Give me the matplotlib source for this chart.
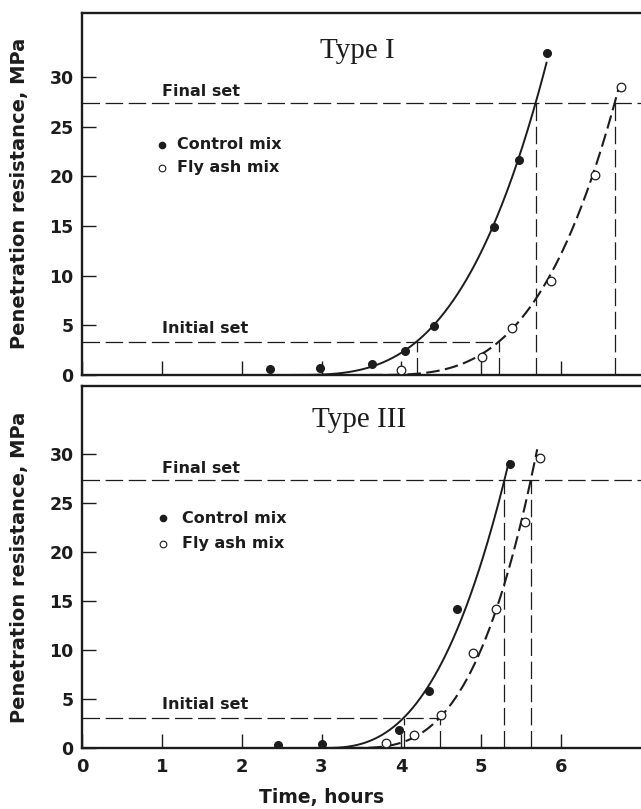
import numpy as np
import matplotlib
matplotlib.use("Agg")
import matplotlib.pyplot as plt

# ---------------- data ----------------
hour_ticks = [0, 1, 2, 3, 4, 5, 6]
mpa_ticks = [0, 5, 10, 15, 20, 25, 30]

panel_titles = ["Type I", "Type III"]
legend_labels = ["Control mix", "Fly ash mix"]

# Type I cement
t1_control_time = [2.35, 2.98, 3.63, 4.05, 4.41, 5.16, 5.47, 5.82]
t1_control_mpa = [0.6, 0.7, 1.1, 2.4, 4.9, 14.9, 21.7, 32.4]
t1_flyash_time = [4.00, 5.01, 5.38, 5.87, 6.42, 6.75]
t1_flyash_mpa = [0.5, 1.8, 4.7, 9.5, 20.1, 29.0]
t1_set_levels = [3.36, 27.4]              # initial, final set (MPa)
t1_control_set_times = [4.19, 5.68]       # initial, final (h)
t1_flyash_set_times = [5.22, 6.67]
t1_curve_onset = [2.6, 3.6]               # control, fly ash
t1_curve_end = [5.82, 6.72]

# Type III cement
t3_control_time = [2.45, 3.00, 3.97, 4.35, 4.70, 5.36]
t3_control_mpa = [0.3, 0.4, 1.85, 5.85, 14.2, 29.0]
t3_flyash_time = [3.81, 4.16, 4.49, 4.90, 5.18, 5.55, 5.73]
t3_flyash_mpa = [0.5, 1.35, 3.4, 9.7, 14.2, 23.1, 29.6]
t3_set_levels = [3.1, 27.4]
t3_control_set_times = [4.03, 5.29]
t3_flyash_set_times = [4.48, 5.62]
t3_curve_onset = [3.0, 3.35]
t3_curve_end = [5.35, 5.70]

INK = "#1c1c1c"
SANS = "DejaVu Sans"
SERIF = "Liberation Serif"


def setting_curve(onset, t_init, t_final, y_init, y_final, t_end):
    """Power-law hardening curve through the initial and final set points."""
    n = np.log(y_final / y_init) / np.log((t_final - onset) / (t_init - onset))
    t = np.linspace(onset, t_end, 300)
    y = y_init * ((t - onset) / (t_init - onset)) ** n
    return t, y


def draw_panel(ax, title, ctime, cmpa, ftime, fmpa, levels, cset, fset,
               onset, tend, ymax, title_xy, legend_y, text_x, show_xlabels):
    y_init, y_final = levels

    # reference lines for initial and final set
    dash_ref = (0, (14, 4.5))
    ax.plot([0, max(cset[0], fset[0])], [y_init, y_init], color=INK, lw=0.9,
            ls=dash_ref)
    ax.plot([0, 7.0], [y_final, y_final], color=INK, lw=0.9, ls=dash_ref)
    for ts in (cset, fset):
        ax.plot([ts[0], ts[0]], [0, y_init], color=INK, lw=0.9, ls=dash_ref)
        ax.plot([ts[1], ts[1]], [0, y_final], color=INK, lw=0.9, ls=dash_ref)

    # fitted hardening curves
    tc, yc = setting_curve(onset[0], cset[0], cset[1], y_init, y_final, tend[0])
    ax.plot(tc, yc, color=INK, lw=1.4, solid_capstyle="butt")
    tf, yf = setting_curve(onset[1], fset[0], fset[1], y_init, y_final, tend[1])
    ax.plot(tf, yf, color=INK, lw=1.5, ls=(0, (6.5, 2.6)))

    # measurements
    ax.plot(ctime, cmpa, "o", ms=5.5, color=INK, mec=INK, zorder=5)
    ax.plot(ftime, fmpa, "o", ms=6.2, mfc="white", mec=INK, mew=0.9, zorder=5)

    # panel title
    ax.text(title_xy[0], title_xy[1], title, family=SERIF, fontsize=21,
            color=INK, ha="center", va="center")

    # key
    ax.plot([text_x[0]], [legend_y[0]], "o", ms=4.5, color=INK)
    ax.plot([text_x[0]], [legend_y[1]], "o", ms=4.8, mfc="white", mec=INK,
            mew=0.8)
    ax.text(text_x[1], legend_y[0], legend_labels[0], family=SANS,
            fontweight="bold", fontsize=11.5, color=INK, va="center")
    ax.text(text_x[1], legend_y[1], legend_labels[1], family=SANS,
            fontweight="bold", fontsize=11.5, color=INK, va="center")

    ax.text(text_x[2], y_final + 0.7, "Final set", family=SANS,
            fontweight="bold", fontsize=11.5, color=INK, va="baseline")
    ax.text(text_x[2], y_init + 0.9, "Initial set", family=SANS,
            fontweight="bold", fontsize=11.5, color=INK, va="baseline")

    # axes styling
    ax.set_xlim(0, 7.0)
    ax.set_ylim(0, ymax)
    ax.set_xticks(hour_ticks)
    ax.set_yticks(mpa_ticks)
    for s in ("left", "bottom", "top"):
        ax.spines[s].set_linewidth(1.7)
        ax.spines[s].set_color(INK)
    ax.spines["right"].set_visible(False)
    ax.tick_params(axis="both", direction="in", length=10, width=1.0,
                   color=INK)
    ax.tick_params(axis="y", labelsize=12.5, pad=6, labelcolor=INK)
    ax.tick_params(axis="x", labelsize=13, pad=7, labelcolor=INK,
                   labelbottom=show_xlabels)
    for lab in ax.get_xticklabels() + ax.get_yticklabels():
        lab.set_fontweight("bold")
        lab.set_family(SANS)

    ax.text(-0.111, 0.5, "Penetration resistance, MPa", transform=ax.transAxes,
            rotation=90, ha="center", va="center", family=SANS,
            fontweight="bold", fontsize=14, color=INK)


fig = plt.figure(figsize=(6.41, 8.09), dpi=100)
fig.patch.set_facecolor("white")

ax_top = fig.add_axes([0.1279, 0.5365, 0.8721, 0.4478])
ax_bot = fig.add_axes([0.1279, 0.0754, 0.8721, 0.4475])

draw_panel(ax_top, panel_titles[0], t1_control_time, t1_control_mpa,
           t1_flyash_time, t1_flyash_mpa, t1_set_levels,
           t1_control_set_times, t1_flyash_set_times, t1_curve_onset,
           t1_curve_end, ymax=36.5, title_xy=(3.45, 32.6),
           legend_y=(23.2, 20.9), text_x=(1.0, 1.185, 1.0),
           show_xlabels=False)

draw_panel(ax_bot, panel_titles[1], t3_control_time, t3_control_mpa,
           t3_flyash_time, t3_flyash_mpa, t3_set_levels,
           t3_control_set_times, t3_flyash_set_times, t3_curve_onset,
           t3_curve_end, ymax=37.0, title_xy=(3.47, 33.5),
           legend_y=(23.5, 20.9), text_x=(1.01, 1.25, 1.0),
           show_xlabels=True)

fig.text(322 / 641, 1 - 797 / 809, "Time, hours", ha="center", va="center",
         family=SANS, fontweight="bold", fontsize=13.5, color=INK)

fig.savefig("out.png", dpi=100, facecolor="white")
